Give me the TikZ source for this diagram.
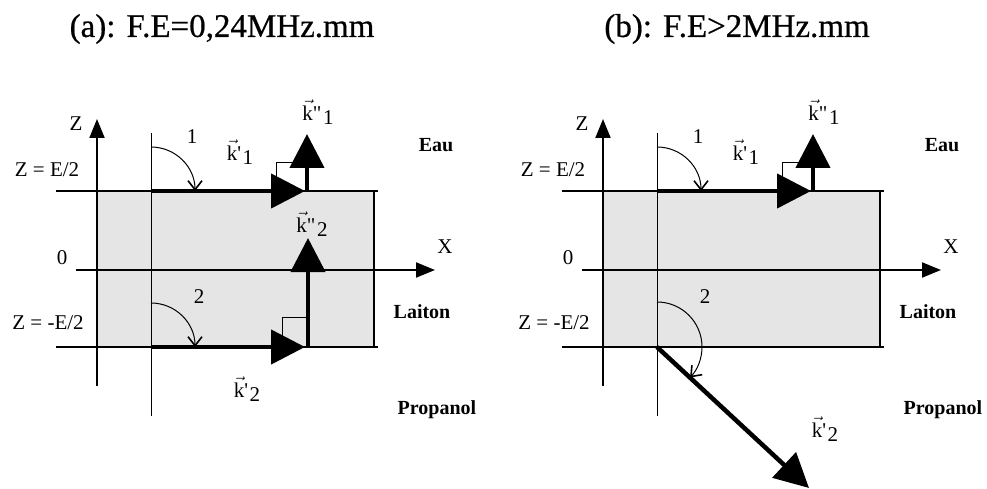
\documentclass[tikz,border=0pt]{standalone}
\usepackage{amsmath}
\usepackage{fontspec}
\setmainfont{Liberation Serif}
\newfontfamily\headfont{Liberation Serif}[FakeBold=0.6]
\usetikzlibrary{arrows.meta}
\newcommand{\wavevec}[2]{$\vec{\text{k}}$#1\kern1.5pt\raisebox{-0.45ex}{#2}}

\begin{document}
\begin{tikzpicture}[x=1pt,y=1pt,
  slab/.style={fill=black!10},
  iface/.style={line width=2pt},
  axis/.style={line width=2pt,-{Triangle[length=19pt,width=15pt]}},
  wave/.style={line width=4.5pt,-{Triangle[length=34pt,width=34pt]}},
  normal/.style={line width=1pt},
  angarc/.style={line width=1pt,-{Straight Barb[length=9pt,width=14pt,line width=1.6pt]}},
  lbl/.style={font=\fontsize{21}{24}\selectfont},
  medium/.style={font=\bfseries\fontsize{20}{23}\selectfont},
  heading/.style={font=\headfont\fontsize{33}{36}\selectfont}]
\useasboundingbox (0,0) rectangle (987,488);
\node[heading] (ta) at (222,459) {(a): F.E=0,24MHz.mm};
\node[heading] (tb) at (737,459) {(b): F.E>2MHz.mm};
% common part of both panels
\foreach \p/\dx in {a/0,b/506}{
\begin{scope}[xshift=\dx pt]
\fill[slab] (97,141) rectangle (374,297);
\draw[iface] (374,141) -- (374,297);
\coordinate (top\p) at (151,297);
\coordinate (bot\p) at (151,141);
\draw[iface] (56,297) -- (378,297) (56,141) -- (378,141);
\draw[normal] (151,355) -- (151,72);
\draw[axis] (97,102) -- (97,369);
\draw[axis] (76,218) -- (435,218);
\node[lbl] (z\p) at (76,364) {Z};
\node[lbl] (x\p) at (445,241) {X};
\node[lbl] (o\p) at (62,230) {0};
\node[lbl] (up\p) at (47,318) {Z = E/2};
\node[lbl] (lo\p) at (48,165) {Z = -E/2};
\node[medium] (eau\p) at (436,343) {Eau};
\node[medium] (lai\p) at (422,176) {Laiton};
\node[medium] (pro\p) at (437,78) {Propanol};
% incident side
\draw[angarc] ([yshift=44pt]top\p) arc (90:0:44);
\node[lbl] (n1\p) at (192,351) {1};
\coordinate (refl\p) at (307,297);
\draw[normal] (276,297) |- (307,325);
\draw[wave] (top\p) -- (305,297);
\draw[wave] (refl\p) -- (307,354);
\node[lbl] (k1\p) at (240,336) {\wavevec{\textquotesingle}{1}};
\node[lbl] (kk1\p) at (318,376) {\wavevec{\textquotedbl}{1}};
\node[lbl] (n2\p) at (199,191) {2};
\end{scope}}
% panel (a): guided waves at the lower face
\draw[normal] (282,141) |- (308,171);
\draw[angarc] ([yshift=44pt]bota) arc (90:0:44);
\draw[wave] (bota) -- (305,141);
\draw[wave] (308,141) -- (308,250);
\node[lbl] (kk2a) at (312,264) {\wavevec{\textquotedbl}{2}};
\node[lbl] (k2a) at (247,99) {\wavevec{\textquotesingle}{2}};
% panel (b): wave leaking into the propanol
\coordinate (tipb) at (809,0);
\draw[angarc] ([yshift=45pt]botb) arc (90:-42.7:45);
\draw[wave] (botb) -- (tipb);
\node[lbl] (k2b) at (825,59) {\wavevec{\textquotesingle}{2}};
\end{tikzpicture}
\end{document}
